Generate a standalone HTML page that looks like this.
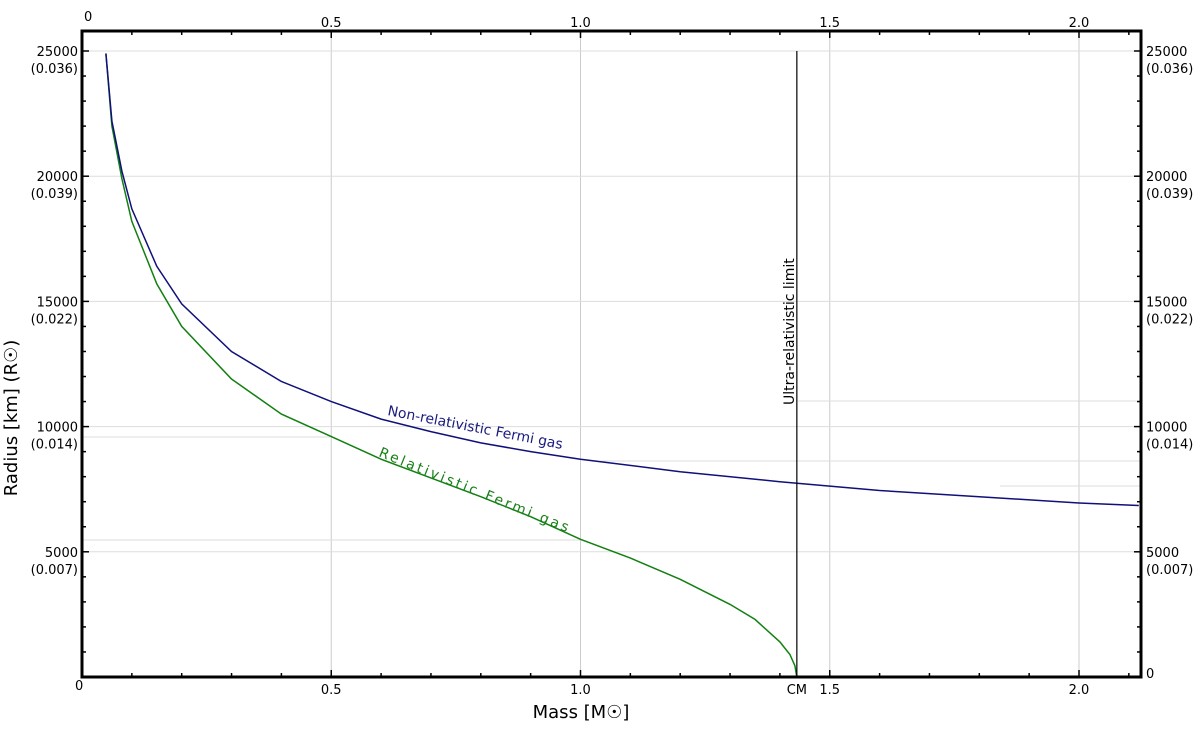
<!DOCTYPE html>
<html><head><meta charset="utf-8"><style>
body{margin:0;background:#fff;}
svg{display:block;font-family:"DejaVu Sans","Liberation Sans",sans-serif;}
</style></head><body>
<svg id="chart" width="1200" height="733">
<g id="grid"></g>
<g id="extra">
<line x1="798" y1="401" x2="1141" y2="401" stroke="#ddd"/>
<line x1="82" y1="437" x2="330" y2="437" stroke="#ddd"/>
<line x1="600" y1="461" x2="1141" y2="461" stroke="#ddd"/>
<line x1="1000" y1="486" x2="1141" y2="486" stroke="#ddd"/>
<line x1="82" y1="540" x2="580" y2="540" stroke="#ddd"/>
</g>
<g id="series"></g>
<g id="ticks"></g>
<rect x="82" y="31" width="1059" height="646" fill="none" stroke="#000" stroke-width="3"/>
<line id="chline" stroke="#000" stroke-width="1.2"/>
<text x="794" y="405" font-size="14" transform="rotate(-90 794 405)">Ultra-relativistic limit</text>
<text x="387" y="415" font-size="14" fill="#1a1a80" transform="rotate(11 387 415)">Non-relativistic Fermi gas</text>
<text x="378" y="456" font-size="14" fill="#1a801a" letter-spacing="2.6" transform="rotate(22 378 456)">Relativistic Fermi gas</text>
<text x="581" y="718" font-size="18" text-anchor="middle">Mass [M☉]</text>
<text x="17" y="418" font-size="18" text-anchor="middle" transform="rotate(-90 17 418)">Radius [km] (R☉)</text>
</svg>
<script>
const massNR=[0.048,0.06,0.08,0.1,0.15,0.2,0.3,0.4,0.5,0.6,0.7,0.8,0.9,1.0,1.2,1.4,1.6,1.8,2.0,2.12];
const radiusNR=[24900,22200,20200,18700,16400,14900,13000,11800,11000,10300,9800,9350,9000,8700,8200,7800,7450,7200,6950,6850];
const massRel=[0.048,0.06,0.08,0.1,0.15,0.2,0.3,0.4,0.5,0.6,0.7,0.8,0.9,1.0,1.1,1.2,1.3,1.35,1.4,1.42,1.43,1.434];
const radiusRel=[24900,22000,19900,18200,15700,14000,11900,10500,9600,8700,7950,7200,6400,5500,4750,3900,2900,2300,1400,900,450,0];
const chandraMass=1.434;
const xTicks=[0.5,1.0,1.5,2.0];
const xTickLabels=["0.5","1.0","1.5","2.0"];
const yTicks=[5000,10000,15000,20000,25000];
const ySolarLabels=["(0.007)","(0.014)","(0.022)","(0.039)","(0.036)"];

const NS="http://www.w3.org/2000/svg";
const X0=82,X1=1141,Y0=677,Y1=31;
const xs=m=>X0+m*498.5;
const ys=r=>Y0-r*(125.2/5000);
function mk(tag,attrs,parent,txt){const e=document.createElementNS(NS,tag);for(const k in attrs)e.setAttribute(k,attrs[k]);if(txt!==undefined)e.textContent=txt;parent.appendChild(e);return e;}
const grid=document.getElementById('grid'),ticks=document.getElementById('ticks'),series=document.getElementById('series');
xTicks.forEach((v,i)=>{
 const g=mk('line',{x1:xs(v),x2:xs(v),y1:Y1,y2:Y0,stroke:'#ccc'},grid);
 
 
 const t=mk('text',{x:xs(v),y:694,'font-size':13,'text-anchor':'middle'},ticks,xTickLabels[i]);
 
 
 const t2=mk('text',{x:xs(v),y:27,'font-size':13,'text-anchor':'middle'},ticks,xTickLabels[i]);
 
 
});
yTicks.forEach((v,i)=>{
 const g=mk('line',{x1:X0,x2:X1,y1:ys(v),y2:ys(v),stroke:'#ddd'},grid);
 
 
 [[78,'end'],[1146,'start']].forEach(([x,a])=>{
  const t=mk('text',{x:x,y:ys(v)+5,'font-size':13,'text-anchor':a},ticks,String(v));
  
  
  const s=mk('text',{x:x,y:ys(v)+22,'font-size':13,'text-anchor':a},ticks,ySolarLabels[i]);
  
  
 });
});
for(let k=1;k<=21;k++){const m=k/10,maj=k%5==0;const x=xs(m);
 mk('line',{x1:x,x2:x,y1:Y0,y2:Y0-(maj?7:4),stroke:'#000','stroke-width':1.5},ticks);
 mk('line',{x1:x,x2:x,y1:Y1,y2:Y1+(maj?7:4),stroke:'#000','stroke-width':1.5},ticks);}
for(let k=1;k<=25;k++){const y=ys(k*1000),maj=k%5==0;
 mk('line',{x1:X0,x2:X0+(maj?7:4),y1:y,y2:y,stroke:'#000','stroke-width':1.5},ticks);
 mk('line',{x1:X1,x2:X1-(maj?7:4),y1:y,y2:y,stroke:'#000','stroke-width':1.5},ticks);}
[[84,21,'0'],[75,690,'0'],[1146,678,'0'],[xs(chandraMass),694,'CM']].forEach(([x,y,s])=>{
 const t=mk('text',{x:x,y:y,'font-size':13,'text-anchor':s==='CM'?'middle':'start'},ticks,s);
 
 
});
const cl=document.getElementById('chline');
cl.setAttribute('x1',xs(chandraMass));cl.setAttribute('x2',xs(chandraMass));cl.setAttribute('y1',ys(25000));cl.setAttribute('y2',Y0);
function path(ms,rs,color,name){
 const p=mk('path',{d:ms.map((m,i)=>(i?'L':'M')+xs(m).toFixed(1)+','+ys(rs[i]).toFixed(1)).join(''),fill:'none',stroke:color,'stroke-width':1.5},series);
 
 
}
path(massRel,radiusRel,'#118011','relativistic-curve');
path(massNR,radiusNR,'#10107a','non-relativistic-curve');
</script>
</body></html>
